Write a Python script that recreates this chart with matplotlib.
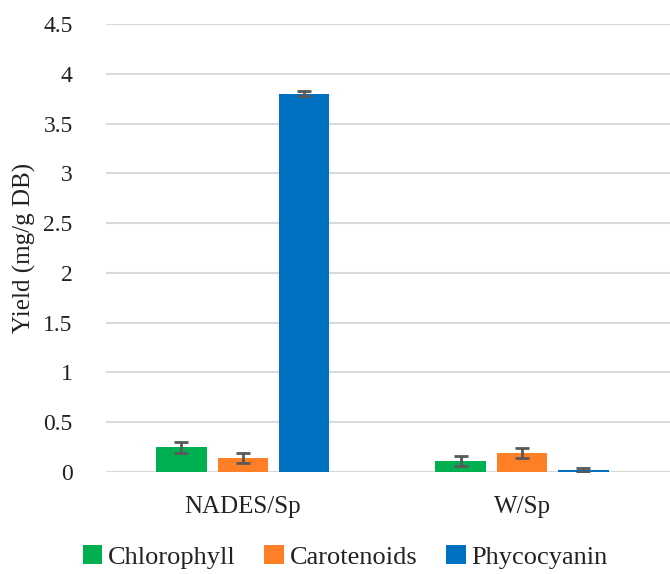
import matplotlib.pyplot as plt
import numpy as np

# Data
groups = ['NADES/Sp', 'W/Sp']
series = ['Chlorophyll', 'Carotenoids', 'Phycocyanin']
values = {
    'Chlorophyll': [0.25, 0.11],
    'Carotenoids': [0.14, 0.19],
    'Phycocyanin': [3.80, 0.02],
}
errors = {
    'Chlorophyll': [0.055, 0.05],
    'Carotenoids': [0.053, 0.048],
    'Phycocyanin': [0.027, 0.022],
}
colors = {'Chlorophyll': '#00B050', 'Carotenoids': '#FF7F27', 'Phycocyanin': '#0070C0'}
yticks = [0, 0.5, 1, 1.5, 2, 2.5, 3, 3.5, 4, 4.5]
ytick_labels = ['0', '0.5', '1', '1.5', '2', '2.5', '3', '3.5', '4', '4.5']

plt.rcParams['font.family'] = ['Liberation Serif', 'DejaVu Serif']

fig = plt.figure(figsize=(6.7, 5.74), dpi=100)
ax = fig.add_axes([106 / 670, 1 - 472 / 574, 1 - 106 / 670, (472 - 24) / 574])

x = np.arange(len(groups))
width = 0.18
offset = 0.22
for i, s in enumerate(series):
    ax.bar(x + (i - 1) * offset, values[s], width, color=colors[s], label=s, zorder=3,
           yerr=errors[s], error_kw=dict(ecolor='#595959', elinewidth=2, capsize=5, capthick=2, zorder=4))

ax.set_xlim(-0.49, 1.53)
ax.set_ylim(0, 4.5)
ax.set_yticks(yticks)
ax.set_yticklabels(ytick_labels, fontsize=17, color='#222222')
ax.set_xticks(x)
ax.set_xticklabels(groups, fontsize=18, color='#222222')
ax.tick_params(axis='both', length=0)
ax.tick_params(axis='x', pad=17)
ax.tick_params(axis='y', pad=24)
ax.grid(axis='y', color='#D9D9D9', linewidth=1.5, zorder=0)
ax.set_axisbelow(True)
for sp in ax.spines.values():
    sp.set_visible(False)
ax.set_ylabel('Yield (mg/g DB)', fontsize=18, color='#222222')
ax.yaxis.set_label_coords(-(106 - 36) / 564, 0.5)

fig.legend(loc='lower center', bbox_to_anchor=(0.515, -0.032), ncol=3, frameon=False,
           fontsize=19, handlelength=0.75, handleheight=0.75, handletextpad=0.2, columnspacing=1.1,
           labelcolor='#222222')

plt.savefig('out.png', dpi=100)
